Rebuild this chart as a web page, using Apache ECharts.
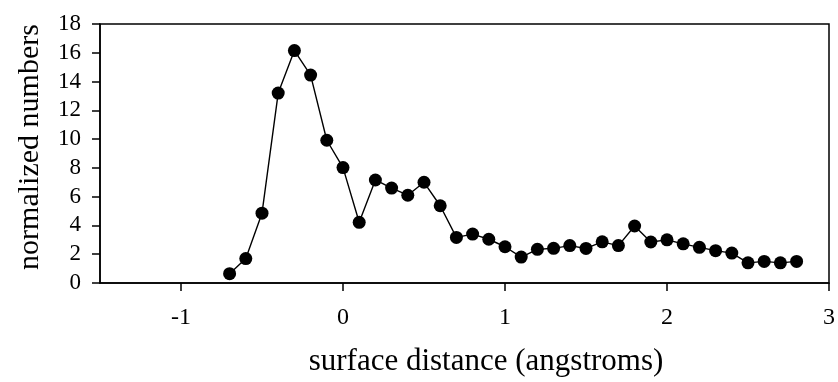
<!DOCTYPE html>
<html>
<head>
<meta charset="utf-8">
<script src="https://cdn.jsdelivr.net/npm/echarts@6/dist/echarts.min.js"></script>
<style>
  html, body { margin: 0; padding: 0; background: #fff; }
  #chart { width: 838px; height: 382px; }
</style>
</head>
<body>
<div id="chart"></div>
<script>
// Surface distance (angstroms) at each sample
const distances = [-0.7, -0.6, -0.5, -0.4, -0.3, -0.2, -0.1, 0.0, 0.1, 0.2,
  0.3, 0.4, 0.5, 0.6, 0.7, 0.8, 0.9, 1.0, 1.1, 1.2,
  1.3, 1.4, 1.5, 1.6, 1.7, 1.8, 1.9, 2.0, 2.1, 2.2,
  2.3, 2.4, 2.5, 2.6, 2.7, 2.8];
// Normalized counts at each distance
const normalizedNumbers = [0.65, 1.7, 4.85, 13.2, 16.15, 14.45, 9.92, 8.02, 4.22, 7.16,
  6.6, 6.1, 7.0, 5.37, 3.17, 3.4, 3.04, 2.52, 1.8, 2.34,
  2.41, 2.6, 2.4, 2.86, 2.6, 3.96, 2.85, 3.0, 2.72, 2.48,
  2.25, 2.08, 1.4, 1.5, 1.4, 1.5];
// Axis tick values
const xTicks = [-1, 0, 1, 2, 3];
const yTicks = [0, 2, 4, 6, 8, 10, 12, 14, 16, 18];

const chart = echarts.init(document.getElementById('chart'));
const serif = 'Liberation Serif, Times New Roman, serif';

chart.setOption({
  animation: false,
  backgroundColor: '#fff',
  grid: {
    left: 100, right: 9, top: 24, bottom: 99,
    show: true, borderColor: '#000', borderWidth: 1.5
  },
  xAxis: {
    type: 'value',
    min: -1.5, max: 3,
    axisLine: { show: true, onZero: false, lineStyle: { color: '#000', width: 1.5 } },
    axisTick: { show: true, inside: false, length: 8, customValues: xTicks,
      lineStyle: { color: '#000', width: 1.5 } },
    axisLabel: { customValues: xTicks, margin: 23, color: '#000',
      fontFamily: serif, fontSize: 24 },
    splitLine: { show: false }
  },
  yAxis: {
    type: 'value',
    min: 0, max: 18, interval: 2,
    axisLine: { show: true, onZero: false, lineStyle: { color: '#000', width: 1.5 } },
    axisTick: { show: true, inside: false, length: 8, customValues: yTicks,
      lineStyle: { color: '#000', width: 1.5 } },
    axisLabel: { customValues: yTicks, margin: 19, color: '#000',
      fontFamily: serif, fontSize: 23 },
    splitLine: { show: false }
  },
  graphic: [
    {
      type: 'text', x: 486, y: 362,
      style: { text: 'surface distance (angstroms)', fill: '#000',
        font: '31px ' + serif, textAlign: 'center', textVerticalAlign: 'middle' }
    },
    {
      type: 'text', x: 30, y: 147, rotation: Math.PI / 2,
      style: { text: 'normalized numbers', fill: '#000',
        font: '30px ' + serif, textAlign: 'center', textVerticalAlign: 'middle' }
    }
  ],
  series: [{
    type: 'line',
    data: distances.map((d, i) => [d, normalizedNumbers[i]]),
    symbol: 'circle',
    symbolSize: 13,
    itemStyle: { color: '#000' },
    lineStyle: { color: '#000', width: 1.4 }
  }]
});
</script>
</body>
</html>
